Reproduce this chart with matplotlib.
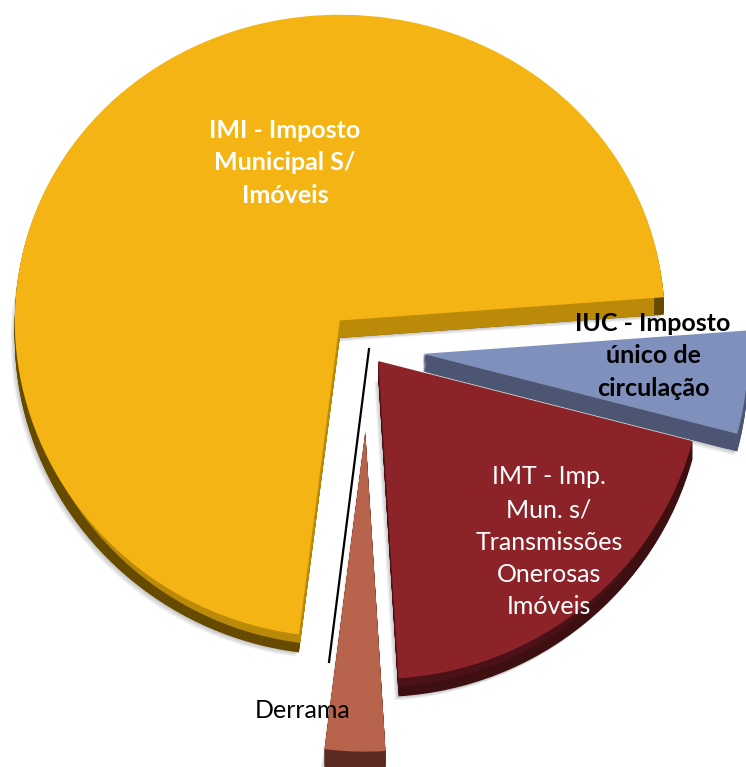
import matplotlib.pyplot as plt

# receitas municipais (% aproximada)
labels = ['IMI - Imposto\nMunicipal S/\nImóveis', 'Derrama',
          'IMT - Imp.\nMun. s/\nTransmissões\nOnerosas\nImóveis',
          'IUC - Imposto\núnico de\ncirculação']
values = [71.8, 3.0, 19.9, 5.3]
explode = [0.126, 0.263, 0.05, 0.17]

top_colors = ['#F3B414', '#B8634C', '#8B2329', '#8090BC']
side_colors = ['#654A00', '#5B2A20', '#3E0F10', '#4C5672']
face_colors = ['#BA8A08', '#5B2A20', '#4A1216', '#4C5672']

START = 4.3
DEPTH = 0.056
K = 0.017  # mild perspective: far side (top) compressed


def fwd(y):
    return y / (1 + K * y)


def inv(s):
    return s / (1 - K * s)


# pixel -> data (x: 325 px/unit, y: 312 px/unit on the perspective scale)
def px(x, y):
    return (x - 368) / 325, inv((349 - y) / 312)


fig = plt.figure(figsize=(7.46, 7.67), dpi=100)
ax = fig.add_axes([0, 0, 1, 1])

wp = dict(linewidth=0, antialiased=True)

# soft drop shadow
for i in range(1, 4):
    ax.pie(values, explode=explode, startangle=START, colors=['#000000'] * 4,
           center=(-0.004 * i, -DEPTH - 0.004 * i), radius=1.0,
           wedgeprops=dict(linewidth=0, alpha=0.07), frame=True)

# extruded sides: outer rim first, then radial faces
n = 16
for i in range(n, 0, -1):
    dy = -DEPTH * i / n
    ax.pie(values, explode=explode, startangle=START, colors=side_colors,
           center=(0, dy), radius=1.0, wedgeprops=wp, frame=True)
for i in range(n, 0, -1):
    dy = -DEPTH * i / n
    ax.pie(values, explode=explode, startangle=START, colors=face_colors,
           center=(0, dy), radius=0.97, wedgeprops=wp, frame=True)

# top faces
ax.pie(values, explode=explode, startangle=START, colors=top_colors,
       radius=1.0, wedgeprops=wp, frame=True)

# leader line for Derrama
x0, y0 = px(369, 349)
x1, y1 = px(329, 662)
ax.plot([x0, x1], [y0, y1], color='black', lw=1.6)

font = 'Lato'
fs = 18
ls = 1.5
tx, ty = px(285, 163)
ax.text(tx, ty, labels[0], color='white', fontsize=fs, fontweight='bold',
        ha='center', va='center', family=font, linespacing=ls)
tx, ty = px(303, 710)
ax.text(tx, ty, labels[1], color='black', fontsize=fs,
        ha='center', va='center', family=font)
tx, ty = px(549, 542)
ax.text(tx, ty, labels[2], color='white', fontsize=fs,
        ha='center', va='center', family=font, linespacing=ls)
tx, ty = px(653, 356)
ax.text(tx, ty, labels[3], color='black', fontsize=fs, fontweight='bold',
        ha='center', va='center', family=font, linespacing=ls)

ax.set_aspect('auto')
ax.set_yscale('function', functions=(fwd, inv))
x_lo, y_hi = px(0, 0)
x_hi, y_lo = px(746, 767)
ax.set_xlim(x_lo, x_hi)
ax.set_ylim(y_lo, y_hi)
ax.axis('off')

fig.savefig('out.png', dpi=100)
